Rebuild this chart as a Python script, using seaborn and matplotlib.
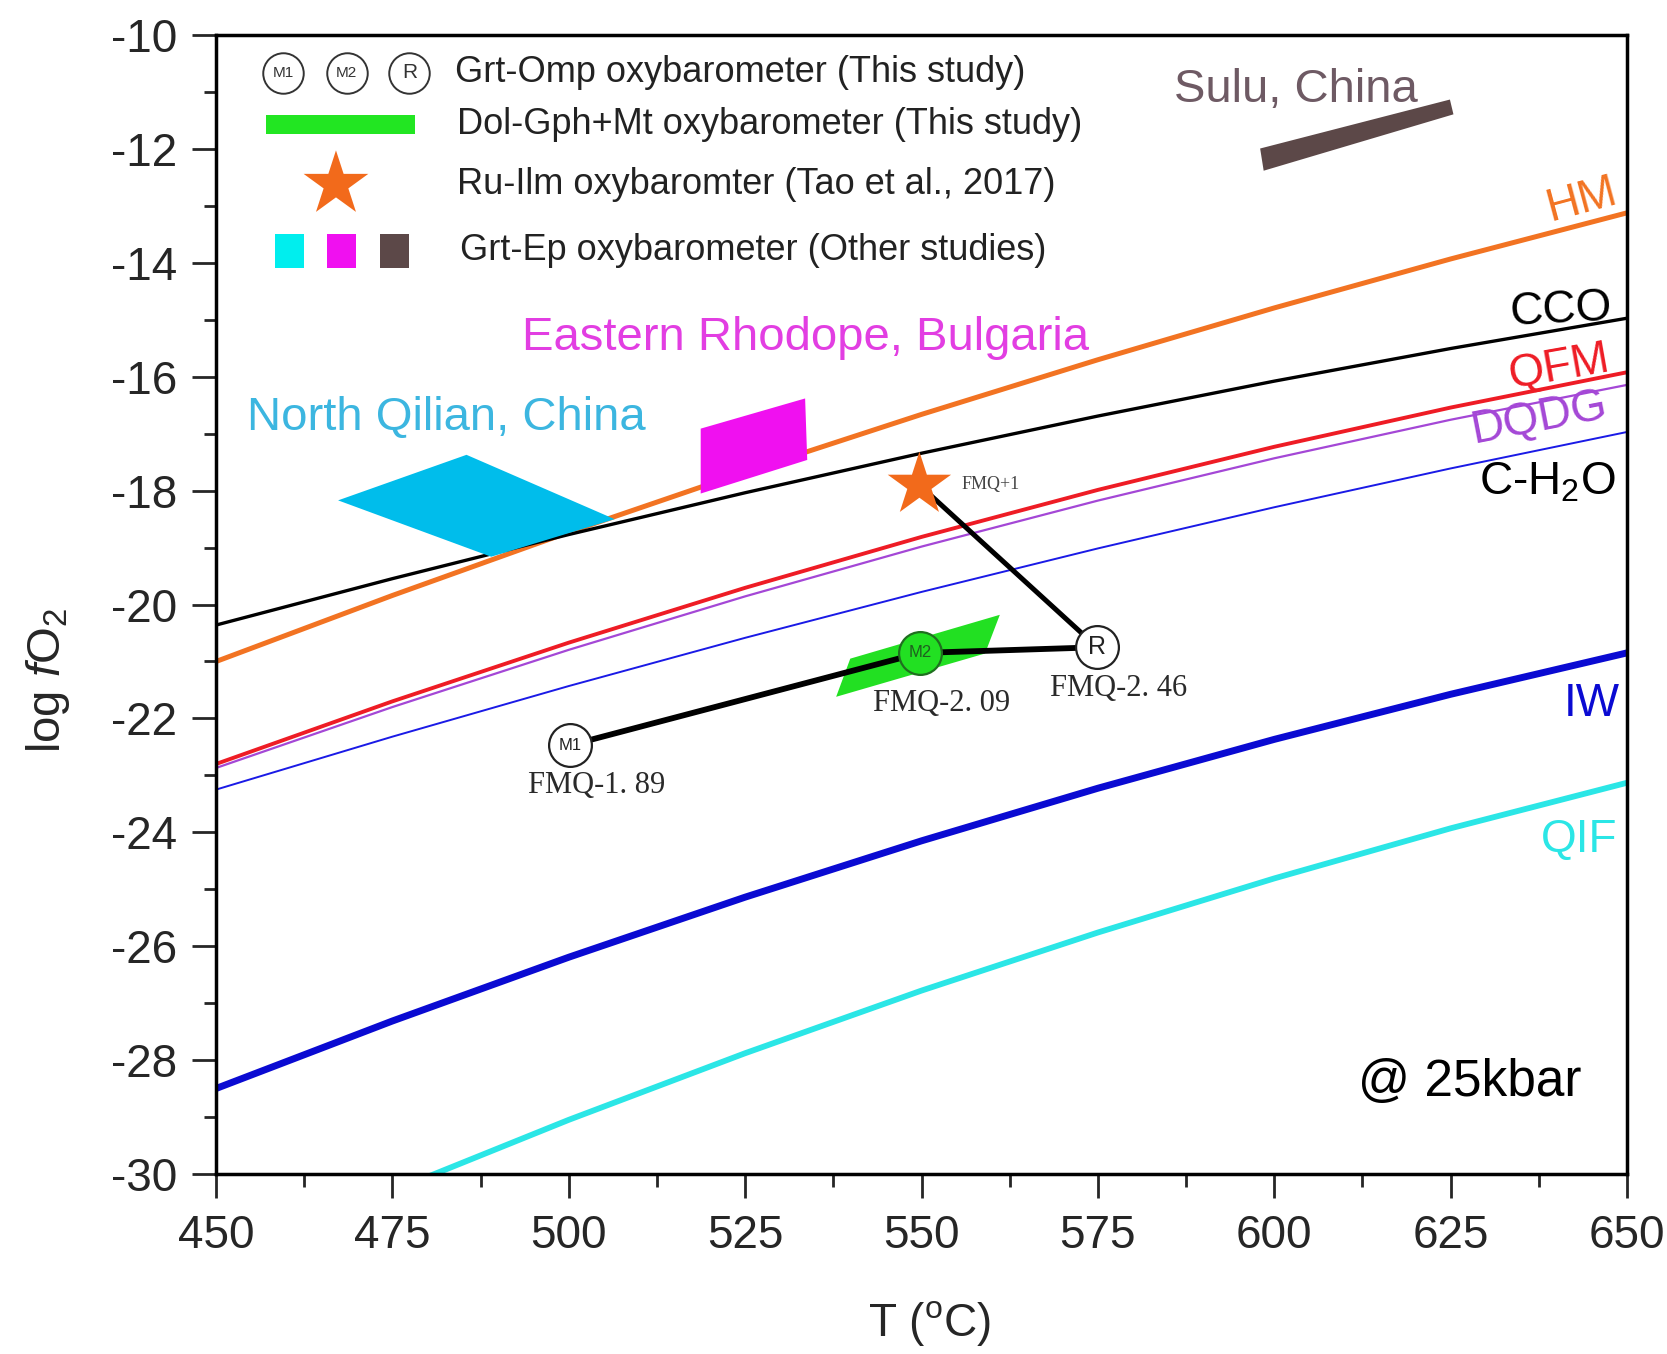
import numpy as np
import pandas as pd
import matplotlib
matplotlib.use("Agg")
import matplotlib.pyplot as plt
import seaborn as sns
from matplotlib.patches import Polygon, Rectangle
from matplotlib.ticker import MultipleLocator

# ---------------- data ----------------
T = [450, 475, 500, 525, 550, 575, 600, 625, 650]
HM = [-21.0, -19.84, -18.73, -17.67, -16.66, -15.70, -14.79, -13.93, -13.12]
CCO = [-20.36, -19.545, -18.77, -18.036, -17.342, -16.689, -16.076, -15.503, -14.971]
QFM = [-22.8, -21.7, -20.669, -19.706, -18.812, -17.986, -17.229, -16.54, -15.92]
DQDG = [-22.87, -21.8, -20.795, -19.856, -18.982, -18.174, -17.431, -16.754, -16.142]
CH2O = [-23.25, -22.32, -21.431, -20.584, -19.778, -19.014, -18.291, -17.609, -16.969]
IW = [-28.5, -27.314, -26.194, -25.139, -24.15, -23.226, -22.368, -21.576, -20.849]
QIF_T = [475, 500, 525, 550, 575, 600, 625, 650]
QIF = [-30.3, -29.05, -27.88, -26.78, -25.76, -24.81, -23.93, -23.13]

# Grt-Ep fields (other studies)
QILIAN_T = [467.3, 485.5, 506.5, 489.0]
QILIAN_V = [-18.17, -17.37, -18.5, -19.16]
RHODOPE_T = [518.7, 533.5, 533.8, 518.7]
RHODOPE_V = [-16.91, -16.38, -17.46, -18.05]
SULU_T = [598.0, 624.9, 625.4, 598.5]
SULU_V = [-11.99, -11.13, -11.39, -12.38]
# Dol-Gph+Mt field (this study)
DOL_T = [537.9, 539.9, 561.1, 559.0]
DOL_V = [-21.62, -20.95, -20.18, -20.86]

# Grt-Omp points (this study)
PT_NAMES = ["M1", "M2", "R"]
PT_T = [500.2, 549.8, 574.9]
PT_V = [-22.47, -20.85, -20.75]
PT_LABELS = ["FMQ-1. 89", "FMQ-2. 09", "FMQ-2. 46"]
PT_LAB_T = [504.0, 552.9, 577.9]
PT_LAB_V = [-23.18, -21.74, -21.47]
# Ru-Ilm (Tao et al., 2017)
STAR_T = [549.7]
STAR_V = [-17.9]

# ---------------- style ----------------
sns.set_style("ticks")
plt.rcParams["font.family"] = ["Liberation Sans", "DejaVu Sans"]
plt.rcParams["mathtext.fontset"] = "custom"
plt.rcParams["mathtext.rm"] = "Liberation Sans"
plt.rcParams["mathtext.it"] = "Liberation Sans:italic"
plt.rcParams["axes.unicode_minus"] = False

fig = plt.figure(figsize=(16.67, 13.54), dpi=100)
ax = fig.add_axes([0.1296, 0.133, 0.8464, 0.841])

C_HM = "#F27322"
C_QFM = "#EE1C25"
C_DQDG = "#A447D6"
C_CH2O = "#1A1AE6"
C_IW = "#0A0AD2"
C_QIF = "#2BE6E6"

curves = [
    (T, HM, C_HM, 3.6),
    (T, CCO, "black", 2.4),
    (T, QFM, C_QFM, 2.8),
    (T, DQDG, C_DQDG, 1.6),
    (T, CH2O, C_CH2O, 1.4),
    (T, IW, C_IW, 5.0),
    (QIF_T, QIF, C_QIF, 4.2),
]
for xs, ys, col, lw in curves:
    sns.lineplot(x=xs, y=ys, color=col, lw=lw, ax=ax, zorder=2)

# fields
ax.add_patch(Polygon(np.column_stack([QILIAN_T, QILIAN_V]), closed=True,
                     facecolor="#00BDEB", edgecolor="none", zorder=3))
ax.add_patch(Polygon(np.column_stack([RHODOPE_T, RHODOPE_V]), closed=True,
                     facecolor="#F010F0", edgecolor="none", zorder=3))
ax.add_patch(Polygon(np.column_stack([SULU_T, SULU_V]), closed=True,
                     facecolor="#5C4848", edgecolor="none", zorder=3))
ax.add_patch(Polygon(np.column_stack([DOL_T, DOL_V]), closed=True,
                     facecolor="#22E022", edgecolor="none", zorder=3))

# connection lines
ax.plot(PT_T[:2], PT_V[:2], color="black", lw=4.2, zorder=4, solid_capstyle="butt")
ax.plot(PT_T[1:], PT_V[1:], color="black", lw=4.2, zorder=4, solid_capstyle="butt")
ax.plot([STAR_T[0], PT_T[2]], [STAR_V[0], PT_V[2]], color="black", lw=3.6, zorder=4)

# circles
pts = pd.DataFrame({"T": PT_T, "V": PT_V, "name": PT_NAMES})
fc = ["white", "#22E022", "white"]
ec = ["#222222", "#1F6F1F", "#222222"]
for i, row in pts.iterrows():
    sns.scatterplot(x=[row["T"]], y=[row["V"]], s=950, facecolor=fc[i],
                    edgecolor=ec[i], linewidth=1.6, ax=ax, zorder=5, legend=False)
    fs = 18 if row["name"] == "R" else 12
    ax.text(row["T"], row["V"], row["name"], ha="center", va="center",
            fontsize=fs, color="#222222" if i != 1 else "#1F5F1F", zorder=6)
for t, v, s in zip(PT_LAB_T, PT_LAB_V, PT_LABELS):
    ax.text(t, v, s, ha="center", va="center", fontsize=22,
            family="Liberation Serif", color="#2a2a2a", zorder=6)

# star
sns.scatterplot(x=STAR_T, y=STAR_V, marker="*", s=2300, color="#F26A1B",
                edgecolor="none", ax=ax, zorder=5, legend=False)
ax.text(555.7, -17.9, "FMQ+1", ha="left", va="center", fontsize=13,
        family="Liberation Serif", color="#444444", zorder=6)

# curve labels
lab_fs = 33
ax.text(643.5, -12.9, "HM", color=C_HM, fontsize=lab_fs, ha="center", va="center", rotation=15)
ax.text(640.7, -14.84, "CCO", color="black", fontsize=lab_fs, ha="center", va="center", rotation=3)
ax.text(640.5, -15.83, "QFM", color=C_QFM, fontsize=lab_fs, ha="center", va="center", rotation=10)
ax.text(637.5, -16.72, "DQDG", color=C_DQDG, fontsize=lab_fs, ha="center", va="center", rotation=11)
ax.text(638.7, -17.85, r"C-H$_2$O", color="black", fontsize=lab_fs, ha="center", va="center")
ax.text(645.0, -21.75, "IW", color=C_IW, fontsize=lab_fs, ha="center", va="center")
ax.text(643.2, -24.14, "QIF", color=C_QIF, fontsize=lab_fs, ha="center", va="center")
ax.text(627.7, -28.39, "@ 25kbar", color="black", fontsize=37, ha="center", va="center")

# region labels
ax.text(482.7, -16.72, "North Qilian, China", color="#3CB6E0", fontsize=34, ha="center", va="center")
ax.text(533.5, -15.32, "Eastern Rhodope, Bulgaria", color="#E23EE2", fontsize=34, ha="center", va="center")
ax.text(603.0, -10.97, "Sulu, China", color="#6E5A64", fontsize=34, ha="center", va="center")

# ---------------- legend (manual) ----------------
tr = ax.transAxes
leg_fs = 26
for xa, nm, f in zip([0.0475, 0.0927, 0.137], PT_NAMES, [11, 11, 15]):
    ax.scatter([xa], [0.967], s=850, facecolor="white", edgecolor="#333333",
               linewidth=1.4, transform=tr, zorder=6, clip_on=False)
    ax.text(xa, 0.967, nm, transform=tr, ha="center", va="center", fontsize=f,
            color="#333333", zorder=7)
ax.text(0.1696, 0.967, "Grt-Omp oxybarometer (This study)", transform=tr,
        ha="left", va="center", fontsize=leg_fs, color="#222222")
ax.add_patch(Rectangle((0.0354, 0.9132), 0.1056, 0.0168, transform=tr,
                       facecolor="#22E622", edgecolor="none", zorder=6))
ax.text(0.171, 0.9216, "Dol-Gph+Mt oxybarometer (This study)", transform=tr,
        ha="left", va="center", fontsize=leg_fs, color="#222222")
ax.scatter([0.085], [0.869], marker="*", s=2400, color="#F26A1B", edgecolor="none",
           transform=tr, zorder=6, clip_on=False)
ax.text(0.171, 0.869, "Ru-Ilm oxybaromter (Tao et al., 2017)", transform=tr,
        ha="left", va="center", fontsize=leg_fs, color="#222222")
for xa, col in zip([0.052, 0.0889, 0.1266], ["#00EEEE", "#F010F0", "#5C4848"]):
    ax.add_patch(Rectangle((xa - 0.0105, 0.7955), 0.021, 0.03, transform=tr,
                           facecolor=col, edgecolor="none", zorder=6))
ax.text(0.173, 0.8105, "Grt-Ep oxybarometer (Other studies)", transform=tr,
        ha="left", va="center", fontsize=leg_fs, color="#222222")

# ---------------- axes ----------------
ax.set_xlim(450, 650)
ax.set_ylim(-30, -10)
ax.xaxis.set_major_locator(MultipleLocator(25))
ax.xaxis.set_minor_locator(MultipleLocator(12.5))
ax.yaxis.set_major_locator(MultipleLocator(2))
ax.yaxis.set_minor_locator(MultipleLocator(1))
ax.tick_params(which="major", direction="out", length=17, width=2, labelsize=33,
               top=False, right=False)
ax.tick_params(axis="x", which="major", pad=12)
ax.tick_params(axis="y", which="major", pad=11)
ax.tick_params(which="minor", direction="out", length=9, width=2, top=False, right=False)
for sp in ax.spines.values():
    sp.set_linewidth(2.5)
    sp.set_color("black")

ax.set_xlabel(r"T ($^{\rm o}$C)", fontsize=33)
ax.set_ylabel(r"log $f$O$_2$", fontsize=34)
ax.xaxis.set_label_coords(0.506, -0.110)
ax.xaxis.label.set_va("top")
ax.yaxis.set_label_coords(-0.102, 0.433)

fig.savefig("out.png", dpi=100)
